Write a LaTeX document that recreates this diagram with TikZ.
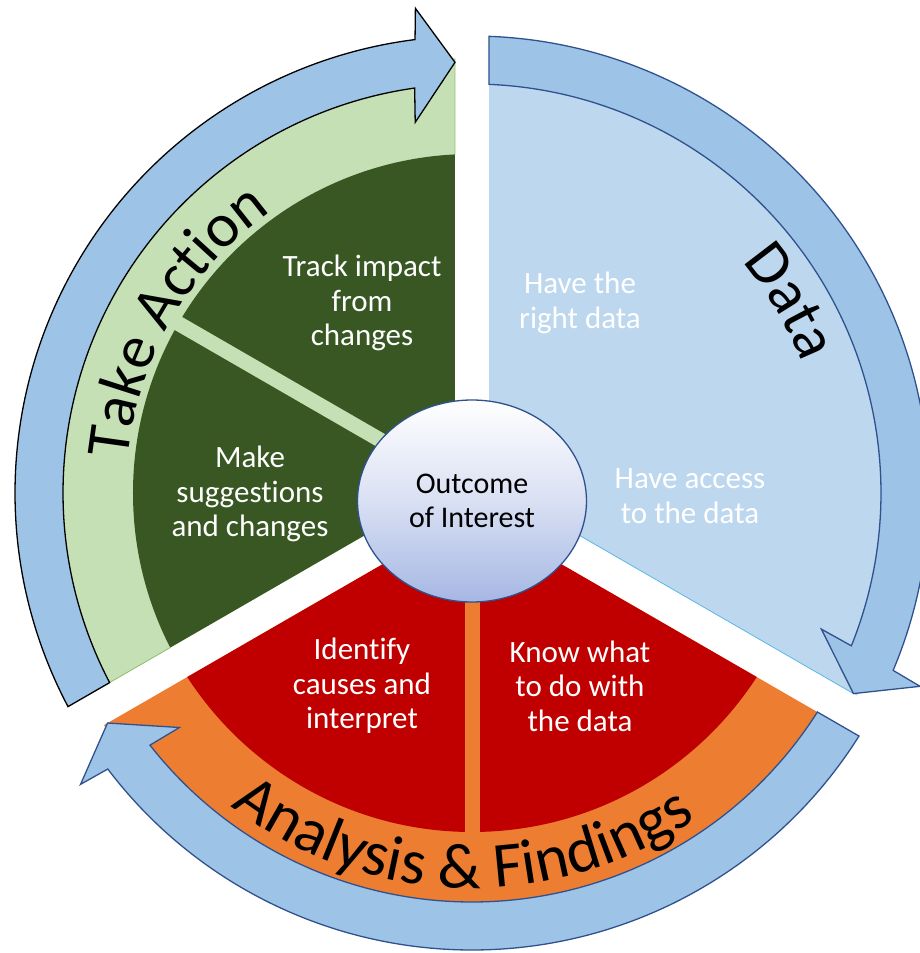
\documentclass[tikz,border=0pt]{standalone}
\usepackage{fontspec}
\setmainfont{Carlito}[Ligatures={NoCommon,NoRequired,NoContextual,NoRare}]
\usetikzlibrary{decorations.text,shapes.geometric}
\definecolor{dkgreen}{HTML}{385723}
\definecolor{ltgreen}{HTML}{C5E0B4}
\definecolor{greenedge}{HTML}{8DBE6B}
\definecolor{ltblue}{HTML}{BDD7EE}
\definecolor{bandblue}{HTML}{9DC3E6}
\definecolor{cyanedge}{HTML}{5BB8E6}
\definecolor{dkred}{HTML}{C00000}
\definecolor{orng}{HTML}{ED7D31}
\definecolor{navy}{HTML}{2F528F}
\definecolor{circmid}{HTML}{D9E0F3}
\definecolor{circbot}{HTML}{A6B7E3}
\newcommand{\titlefont}{\fontsize{62}{72}\selectfont}
\newcommand{\bigtitlefont}{\fontsize{64}{72}\selectfont}
\newcommand{\bodyfont}{\fontsize{31}{34.5}\selectfont}
\newcommand{\centrefont}{\fontsize{30}{34.5}\selectfont}
\begin{document}
\begin{tikzpicture}[x=1pt,y=1pt,
  inlabel/.style={align=center,font=\bodyfont,text=white,inner sep=0pt},
  arrowband/.style={fill=bandblue,line width=1.3pt,line join=miter},
  divider/.style={line width=15pt},
  titlepath/.style={decorate,decoration={text along path,text align=center,text color=black,text={#1}}}
]
\useasboundingbox (-472,-460) rectangle (448,493);
\coordinate (C) at (0,0);
% ---------- Take Action sector ----------
\begin{scope}
  \clip (150:19.63pt) -- +(210:1200pt) -- +(90:1200pt) -- cycle;
  \fill[ltgreen] (C) circle[radius=435pt];
  \fill[dkgreen] (C) circle[radius=339pt];
  \draw[ltgreen,divider] (C) -- (150:345pt);
\end{scope}
\draw[greenedge,line width=0.8pt] (92.87:339pt) -- (92.24:435pt);
\draw[greenedge,line width=0.8pt] (207.13:339pt) -- (207.76:435pt);
% ---------- Data sector ----------
\begin{scope}
  \clip (30:19.63pt) -- +(90:1200pt) -- +(-30:1200pt) -- cycle;
  \fill[ltblue] (C) circle[radius=435pt];
\end{scope}
\draw[cyanedge,line width=0.8pt] (-20.21:100pt) -- (-27.74:431pt);
% ---------- Analysis sector ----------
\begin{scope}
  \clip (270:19.63pt) -- +(330:1200pt) -- +(210:1200pt) -- cycle;
  \fill[orng] (C) circle[radius=435pt];
  \fill[dkred] (C) circle[radius=339pt];
  \draw[orng,divider] (C) -- (270:345pt);
\end{scope}
% ---------- circular arrows ----------
\draw[arrowband,draw=black] (207.87:457pt) arc[start angle=207.87,end angle=97.16,radius=457pt]
  -- (96.66:488pt) -- (92.26:431pt) -- (98.71:375pt) -- (98.06:409pt)
  arc[start angle=98.06,end angle=207.62,radius=409pt] -- cycle;
\draw[arrowband,draw=navy] (87.87:457pt) arc[start angle=87.87,end angle=-22.84,radius=457pt]
  -- (-23.34:488pt) -- (-27.74:431pt) -- (-21.29:375pt) -- (-21.94:409pt)
  arc[start angle=-21.94,end angle=87.62,radius=409pt] -- cycle;
\draw[arrowband,draw=navy] (327.87:457pt) arc[start angle=327.87,end angle=217.16,radius=457pt]
  -- (216.66:488pt) -- (212.26:431pt) -- (218.71:375pt) -- (218.06:409pt)
  arc[start angle=218.06,end angle=327.62,radius=409pt] -- cycle;
% ---------- curved titles ----------
\path[titlepath={|\titlefont|Take Action}] (230:346pt) arc[start angle=230,end angle=70,radius=346pt];
\path[titlepath={|\titlefont|Data}] (111:355pt) arc[start angle=111,end angle=-49,radius=355pt];
\path[titlepath={|\bigtitlefont|Analysis {\&} Findings}] (188.5:395pt) arc[start angle=188.5,end angle=348.5,radius=395pt];
% ---------- inner labels ----------
\node[inlabel] (track) at (-110,190) {Track impact\\from\\changes};
\node[inlabel] (make) at (-222,-1) {Make\\suggestions\\and changes};
\node[inlabel] (right) at (108,190) {Have the\\right data};
\node[inlabel] (access) at (218,-3) {Have access\\to the data};
\node[inlabel] (identify) at (-110,-193) {Identify\\causes and\\interpret};
\node[inlabel] (know) at (108,-193) {Know what\\to do with\\the data};
% ---------- centre ----------
\node[ellipse,minimum width=229pt,minimum height=202pt,inner sep=0pt,
      top color=white,bottom color=circbot,middle color=circmid,
      draw=navy,line width=1.3pt,align=center,font=\centrefont,text=black] (outcome) at (0,-8) {Outcome\\of Interest};
\end{tikzpicture}
\end{document}
